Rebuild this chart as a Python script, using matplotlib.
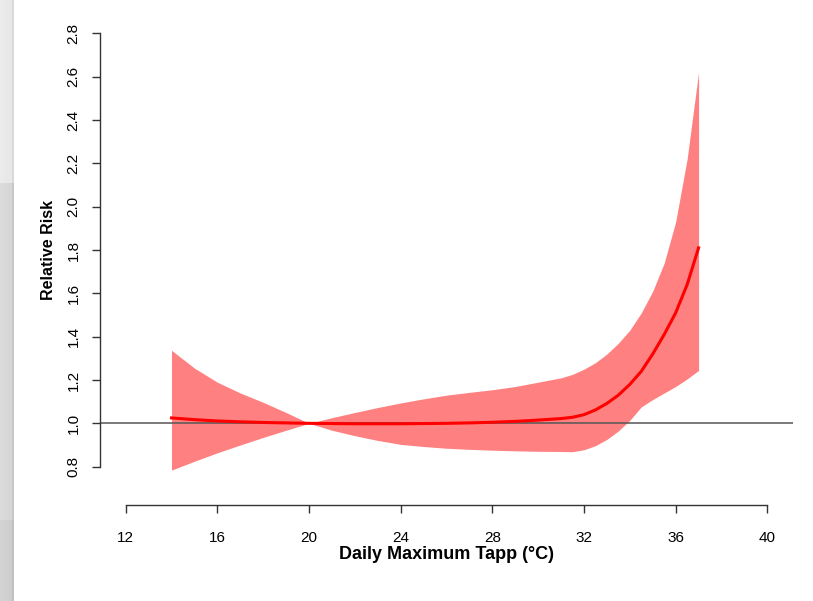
import numpy as np
import matplotlib.pyplot as plt

plt.rcParams['font.family'] = ['Liberation Sans', 'DejaVu Sans']

# temperature grid and relative risk readings
temp = [14, 15, 16, 17, 18, 19, 20, 21, 22, 23, 24, 25, 26, 27, 28, 29, 30, 31, 31.5,
        32, 32.5, 33, 33.5, 34, 34.5, 35, 35.5, 36, 36.5, 37]
rr = [1.025, 1.017, 1.011, 1.007, 1.004, 1.002, 1.000, 0.999, 0.998, 0.998, 0.998, 0.999,
      1.000, 1.002, 1.005, 1.009, 1.015, 1.022, 1.028, 1.040, 1.062, 1.092, 1.13, 1.18,
      1.24, 1.32, 1.41, 1.51, 1.64, 1.81]
rr_high = [1.337, 1.255, 1.19, 1.14, 1.097, 1.05, 1.000, 1.026, 1.05, 1.073, 1.094, 1.113,
           1.13, 1.143, 1.155, 1.17, 1.19, 1.21, 1.226, 1.25, 1.28, 1.32, 1.37, 1.43,
           1.51, 1.61, 1.74, 1.93, 2.22, 2.62]
rr_low = [0.784, 0.825, 0.864, 0.90, 0.935, 0.968, 1.000, 0.968, 0.943, 0.921, 0.903, 0.893,
          0.885, 0.880, 0.876, 0.873, 0.871, 0.870, 0.869, 0.878, 0.897, 0.926, 0.965, 1.014,
          1.076, 1.11, 1.14, 1.17, 1.205, 1.244]

xticks = [12, 16, 20, 24, 28, 32, 36, 40]
yticks = [0.8, 1.0, 1.2, 1.4, 1.6, 1.8, 2.0, 2.2, 2.4, 2.6, 2.8]

fig = plt.figure(figsize=(8.13, 6.01), dpi=100)

# grey slide edge on the left
edge = fig.add_axes([0, 0, 14 / 813, 1])
shade = np.ones((601, 14))
shade[:183] = np.linspace(0.92, 0.90, 14)
shade[183:520] = np.linspace(0.86, 0.83, 14)
shade[520:] = np.linspace(0.83, 0.80, 14)
shade[:, -2:] -= 0.05
edge.imshow(shade, cmap='gray', vmin=0, vmax=1, aspect='auto', interpolation='nearest')
edge.axis('off')

ax = fig.add_axes([100 / 813, 117 / 601, 693 / 813, 468 / 601])
ax.fill_between(temp, rr_low, rr_high, color='#ff8080', lw=0)
ax.axhline(1.0, color='#555555', lw=1.1)
ax.plot(temp, rr, color='red', lw=2.2)

ax.set_xlim(10.88, 41.12)
ax.set_ylim(0.72, 2.88)

ax.spines['top'].set_visible(False)
ax.spines['right'].set_visible(False)
ax.spines['left'].set_bounds(0.8, 2.8)
ax.spines['bottom'].set_bounds(12, 40)
ax.spines['bottom'].set_position(('outward', 15))
for s in ['left', 'bottom']:
    ax.spines[s].set_color('#333333')
    ax.spines[s].set_linewidth(1)

ax.set_xticks(xticks)
ax.set_xticklabels([str(t) for t in xticks], fontsize=11)
ax.set_yticks(yticks)
ax.set_yticklabels(['%.1f' % t for t in yticks], fontsize=11, rotation=90, va='center')
ax.tick_params(axis='both', length=6, width=1, color='#333333')
ax.tick_params(axis='x', pad=13)
ax.tick_params(axis='y', pad=8)

ax.set_xlabel('Daily Maximum Tapp (°C)', fontsize=13, fontweight='bold', va='center')
ax.xaxis.set_label_coords(0.5, -0.15)
ax.set_ylabel('Relative Risk', fontsize=11.5, fontweight='bold', va='center')
ax.yaxis.set_label_coords(-0.074, 0.5)

plt.savefig('out.png', dpi=100)
